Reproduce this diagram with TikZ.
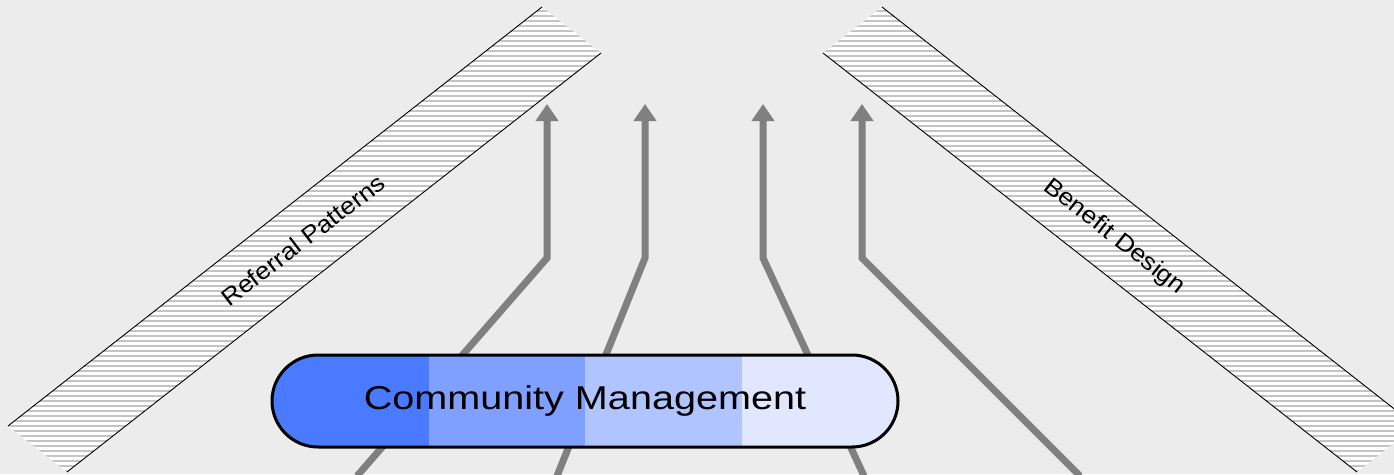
\documentclass[tikz,border=0pt]{standalone}
\usepackage{fontspec}
\setmainfont{Liberation Sans}
\usetikzlibrary{arrows.meta,calc}
\definecolor{bg}{HTML}{ECECEC}
\definecolor{segA}{HTML}{4A7AFF}
\definecolor{segB}{HTML}{7FA0FF}
\definecolor{segC}{HTML}{B0C4FF}
\definecolor{segD}{HTML}{E1E7FF}
\definecolor{stripe}{HTML}{C4C4C4}
\definecolor{arrowgray}{HTML}{808080}
\tikzset{
  bandedge/.style={draw=black, line width=0.9pt},
  stripeline/.style={draw=stripe, line width=2.5pt},
  bandtext/.style={font=\fontsize{24}{28}\selectfont, inner sep=0pt},
  flowarrow/.style={draw=arrowgray, line width=7pt, -{Triangle[width=22pt,length=17pt]}},
  pill/.style={draw=black, line width=3pt, rounded corners=46pt, minimum width=626pt, minimum height=92pt,
    inner sep=0pt, font=\fontsize{33}{38}\selectfont}
}
\begin{document}
\begin{tikzpicture}[x=1pt,y=-1pt]
\fill[bg] (0,0) rectangle (1394,474);
\useasboundingbox (0,0) rectangle (1394,474);
\clip (0,0) rectangle (1394,474);
% left band
\coordinate (LA) at (8,426);
\coordinate (LB) at (542,7);
\coordinate (LC) at (601,53);
\coordinate (LD) at (67,472);
% right band
\coordinate (RA) at (1416,426);
\coordinate (RB) at (882,7);
\coordinate (RC) at (823,53);
\coordinate (RD) at (1357,472);
\begin{scope}
  \clip (LA) -- (LB) -- (LC) -- (LD) -- cycle;
  \fill[white] (0,0) rectangle (1394,474);
  \foreach \y in {1,6,...,476} \path[stripeline] (0,\y) -- (1394,\y);
\end{scope}
\begin{scope}
  \clip (RA) -- (RB) -- (RC) -- (RD) -- cycle;
  \fill[white] (0,0) rectangle (1394,474);
  \foreach \y in {1,6,...,476} \path[stripeline] (0,\y) -- (1394,\y);
\end{scope}
\path[bandedge] (LA) -- (LB);
\path[bandedge] (LD) -- (LC);
\path[bandedge] (RA) -- (RB);
\path[bandedge] (RD) -- (RC);
\node[bandtext, rotate=37.5] (ref) at (303,240) {\scalebox{1.1}[1]{Referral Patterns}};
\node[bandtext, rotate=-38] (ben) at (1114,237) {\scalebox{1.1}[1]{Benefit Design}};
% arrows
\coordinate (s1) at (357,476); \coordinate (b1) at (547,258); \coordinate (t1) at (547,104);
\coordinate (s2) at (557,476); \coordinate (b2) at (645,258); \coordinate (t2) at (645,104);
\coordinate (s3) at (864,476); \coordinate (b3) at (763,258); \coordinate (t3) at (763,104);
\coordinate (s4) at (1080,476); \coordinate (b4) at (862,258); \coordinate (t4) at (862,104);
\path[flowarrow] (s1) -- (b1) -- (t1);
\path[flowarrow] (s2) -- (b2) -- (t2);
\path[flowarrow] (s3) -- (b3) -- (t3);
\path[flowarrow] (s4) -- (b4) -- (t4);
% pill
\node[pill, path picture={
  \coordinate (pw) at (path picture bounding box.west);
  \coordinate (pe) at (path picture bounding box.east);
  \fill[segA, sharp corners] ($(pw)+(0,-60)$) rectangle ($($(pw)!0.25!(pe)$)+(0,60)$);
  \fill[segB, sharp corners] ($($(pw)!0.25!(pe)$)+(0,-60)$) rectangle ($($(pw)!0.5!(pe)$)+(0,60)$);
  \fill[segC, sharp corners] ($($(pw)!0.5!(pe)$)+(0,-60)$) rectangle ($($(pw)!0.75!(pe)$)+(0,60)$);
  \fill[segD, sharp corners] ($($(pw)!0.75!(pe)$)+(0,-60)$) rectangle ($(pe)+(0,60)$);
}] (cm) at (585,401) {\scalebox{1.2}[1]{Community Management}};
\end{tikzpicture}
\end{document}
